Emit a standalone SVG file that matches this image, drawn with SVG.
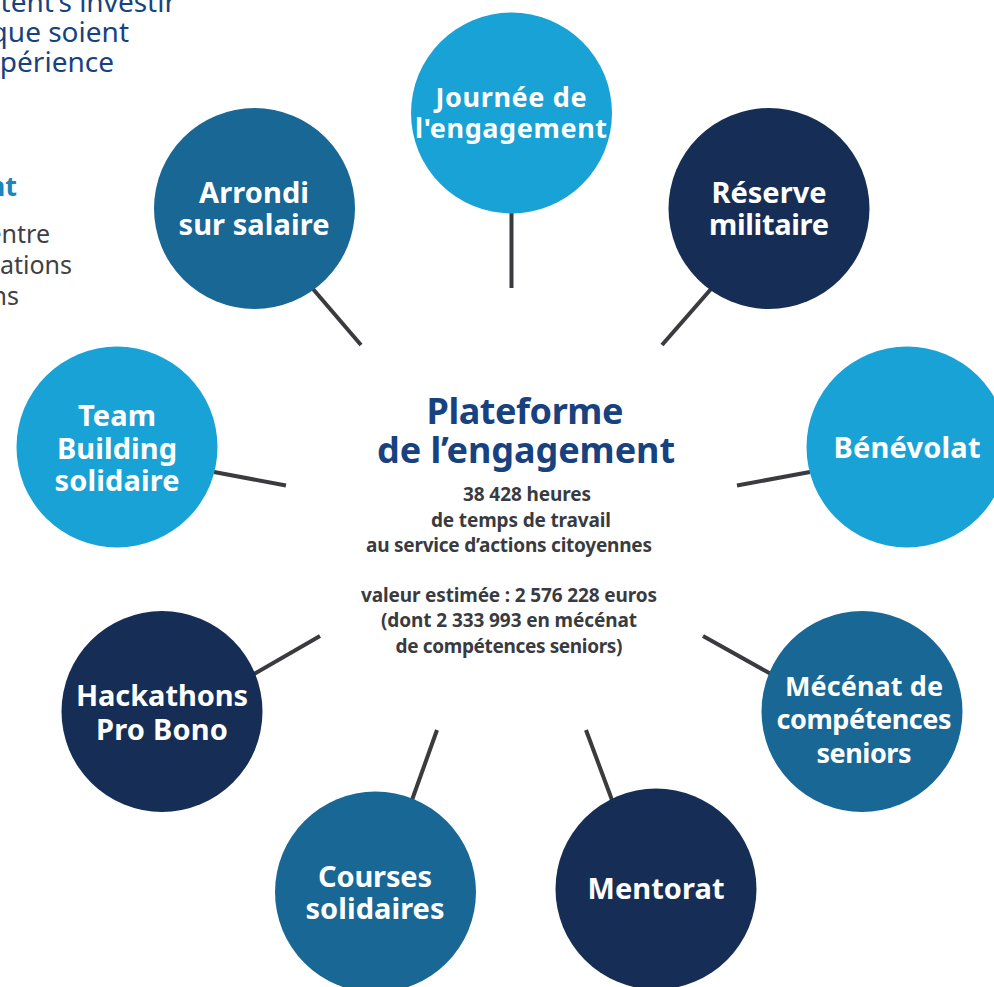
<svg xmlns="http://www.w3.org/2000/svg" width="994" height="987" viewBox="0 0 994 987">
<style>
text{font-family:"Noto Sans","Open Sans","Liberation Sans",sans-serif}
.n{font-size:29px;font-weight:700;fill:#fff;text-anchor:middle}
.m{font-size:27px}
.t{font-size:36px;font-weight:700;fill:#17427f;text-anchor:middle}
.s{font-size:19px;font-weight:700;fill:#3a3b3f;text-anchor:middle}
.f{font-size:28px;fill:#17427f;text-anchor:end}
.g{font-size:25px;fill:#3f4044;text-anchor:end}
.a{fill:#18a2d6}.b{fill:#186795}.c{fill:#162e55}
#connectors line{stroke:#3a3b3f;stroke-width:4}
</style>
<rect width="994" height="987" fill="#fff"/>
<g id="fragments">
<text class="f" x="176" y="12">itent’s investir</text>
<text class="f" x="129" y="42">que soient</text>
<text class="f" x="114" y="72">périence</text>
<text x="17" y="196" style="font-size:27px;font-weight:700;fill:#1b86b9;text-anchor:end">nt</text>
<text class="g" x="50" y="243">entre</text>
<text class="g" x="72" y="274">ations</text>
<text class="g" x="19" y="305">ns</text>
</g>
<g id="connectors">
<line x1="511.500" y1="213" x2="511.500" y2="288"/>
<line x1="711" y1="289" x2="662" y2="345"/>
<line x1="810" y1="472" x2="737" y2="485.500"/>
<line x1="771" y1="674" x2="703" y2="636"/>
<line x1="612" y1="800" x2="586" y2="730"/>
<line x1="412" y1="800" x2="437" y2="730"/>
<line x1="254" y1="674" x2="320" y2="636"/>
<line x1="214" y1="472" x2="286" y2="485.500"/>
<line x1="313" y1="289" x2="361" y2="345"/>
</g>
<g id="n-journee"><circle class="a" cx="511.500" cy="113" r="100.500"/><text class="n m" x="511" y="107" textLength="151">Journée de</text><text class="n m" x="511" y="138" textLength="192">l'engagement</text></g>
<g id="n-reserve"><circle class="c" cx="769" cy="208.500" r="100.500"/><text class="n" x="769" y="203" textLength="115">Réserve</text><text class="n" x="769" y="235" textLength="120">militaire</text></g>
<g id="n-benevolat"><circle class="a" cx="907" cy="447" r="100.500"/><text class="n" x="907" y="458" textLength="147">Bénévolat</text></g>
<g id="n-mecenat"><circle class="b" cx="862" cy="711.500" r="100.500"/><text class="n m" x="864" y="696" textLength="158">Mécénat de</text><text class="n m" x="864" y="729" textLength="175">compétences</text><text class="n m" x="864" y="763" textLength="95">seniors</text></g>
<g id="n-mentorat"><circle class="c" cx="656" cy="889" r="100.500"/><text class="n" x="656" y="899" textLength="137">Mentorat</text></g>
<g id="n-courses"><circle class="b" cx="375.500" cy="892" r="100.500"/><text class="n" x="375" y="887" textLength="114">Courses</text><text class="n" x="375" y="919" textLength="139">solidaires</text></g>
<g id="n-hackathons"><circle class="c" cx="162" cy="711.500" r="100.500"/><text class="n" x="162" y="706" textLength="172">Hackathons</text><text class="n" x="162" y="740" textLength="132">Pro Bono</text></g>
<g id="n-team"><circle class="a" cx="117" cy="447" r="100.500"/><text class="n" x="117" y="426" textLength="78">Team</text><text class="n" x="117" y="459" textLength="120">Building</text><text class="n" x="117" y="491" textLength="125">solidaire</text></g>
<g id="n-arrondi"><circle class="b" cx="254.500" cy="208.500" r="100.500"/><text class="n" x="254" y="203" textLength="110">Arrondi</text><text class="n" x="254" y="235" textLength="151">sur salaire</text></g>
<g id="center">
<text class="t" x="525" y="424" textLength="197">Plateforme</text>
<text class="t" x="526" y="463" textLength="298">de l’engagement</text>
<text class="s" x="527" y="501" textLength="128">38 428 heures</text>
<text class="s" x="521" y="527" textLength="180">de temps de travail</text>
<text class="s" x="509" y="552" textLength="286">au service d’actions citoyennes</text>
<text class="s" x="509" y="602" textLength="296">valeur estimée : 2 576 228 euros</text>
<text class="s" x="509" y="627" textLength="256">(dont 2 333 993 en mécénat</text>
<text class="s" x="509" y="653" textLength="227">de compétences seniors)</text>
</g>
</svg>
